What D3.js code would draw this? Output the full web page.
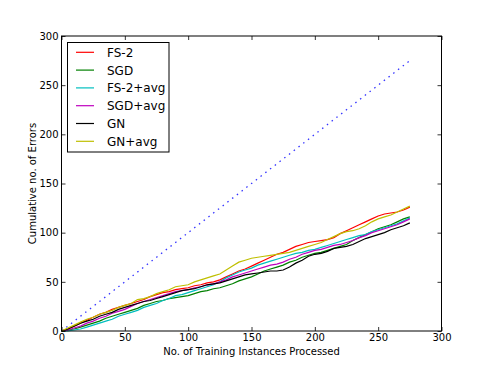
<!DOCTYPE html>
<html>
<head>
<meta charset="utf-8">
<script src="https://cdn.jsdelivr.net/npm/d3@7"></script>
<style>
body { margin: 0; background: #fff; }
svg { display: block; font-family: "DejaVu Sans", sans-serif; }
</style>
</head>
<body>
<div id="chart"></div>
<script>
const xs = [0,5,10,15,20,25,30,35,40,45,50,55,60,65,70,75,80,85,90,95,100,105,110,115,120,125,130,135,140,145,150,155,160,165,170,175,180,185,190,195,200,205,210,215,220,225,230,235,240,245,250,255,260,265,270,275];

const fs2    = [0,2,5,8,11,14,17,19,22,24,26,28,30,32,35,37,39,40,42,43,44,46,47,49,50,52,55,58,61,63,66,69,72,75,78,80,83,86,88,90,91,92,93,95,99,102,105,108,111,114,117,119,120,121,123,126];
const sgd    = [0,1,2,4,6,8,10,13,15,17,19,21,23,26,28,30,31,33,34,35,36,38,40,41,43,44,46,48,51,53,55,58,61,63,65,67,70,72,75,77,79,80,82,84,86,88,92,95,98,101,104,106,108,111,114,116];
const fs2avg = [0,0,1,2,4,6,8,10,12,15,17,19,21,24,26,28,31,33,36,37,39,41,43,45,47,50,54,57,60,62,64,67,69,71,73,75,77,79,80,82,83,85,87,89,91,93,95,97,98,101,103,105,107,109,112,115];
const sgdavg = [0,1,3,5,8,10,13,15,18,20,22,25,28,30,32,34,36,38,40,41,42,44,45,47,48,50,52,55,57,59,61,63,65,67,68,70,73,75,78,80,82,83,85,87,88,90,92,95,97,100,102,104,106,108,111,114];
const gn     = [0,2,5,8,10,12,15,17,19,22,24,26,28,30,31,33,35,37,39,41,42,43,45,47,48,49,51,53,55,57,58,59,60,61,61,62,65,69,72,76,78,79,81,84,85,86,88,91,94,96,98,100,103,105,107,110];
const gnavg  = [0,3,6,9,12,14,17,19,21,24,26,28,32,33,35,38,40,42,45,46,47,50,52,54,56,58,62,66,70,72,74,75,76,77,78,79,80,82,84,86,88,90,93,96,99,101,102,104,107,111,114,116,118,121,124,127];

const refX = [0, 275];
const refY = [0, 275];

const seriesNames = ["FS-2","SGD","FS-2+avg","SGD+avg","GN","GN+avg"];
const seriesValues = [fs2, sgd, fs2avg, sgdavg, gn, gnavg];
const seriesColors = ["#ff0000","#008000","#00bfbf","#bf00bf","#000000","#bfbf00"];

const xTicks = [0,50,100,150,200,250,300];
const yTicks = [0,50,100,150,200,250,300];

const W = 491, H = 368;
const L = 61.5, R = 441.5, T = 36, B = 331;

const svg = d3.select("#chart").append("svg").attr("width", W).attr("height", H);

const x = d3.scaleLinear().domain([0,300]).range([L,R]);
const y = d3.scaleLinear().domain([0,300]).range([B,T]);

// reference dotted line
const line = d3.line().x(d => x(d[0])).y(d => y(d[1]));
svg.append("path")
  .attr("d", line(refX.map((v,i) => [v, refY[i]])))
  .attr("fill","none").attr("stroke","#3333ff").attr("stroke-width",1.3)
  .attr("stroke-dasharray","1.5,4.5");

seriesValues.forEach((vals, k) => {
  svg.append("path")
    .attr("d", line(xs.map((v,i) => [v, vals[i]])))
    .attr("fill","none").attr("stroke", seriesColors[k]).attr("stroke-width",1.2);
});

// frame
svg.append("rect").attr("x",L).attr("y",T).attr("width",R-L).attr("height",B-T)
  .attr("fill","none").attr("stroke","#000").attr("stroke-width",1);

// axes with inward ticks
const fmt = d3.format("d");
const gx = svg.append("g").attr("transform",`translate(0,${B})`)
  .call(d3.axisBottom(x).tickValues(xTicks).tickFormat(fmt).tickSizeInner(-4).tickSizeOuter(0).tickPadding(3));
const gxt = svg.append("g").attr("transform",`translate(0,${T})`)
  .call(d3.axisTop(x).tickValues(xTicks).tickFormat("").tickSizeInner(-4).tickSizeOuter(0));
const gy = svg.append("g").attr("transform",`translate(${L},0)`)
  .call(d3.axisLeft(y).tickValues(yTicks).tickFormat(fmt).tickSizeInner(-4).tickSizeOuter(0).tickPadding(3));
const gyr = svg.append("g").attr("transform",`translate(${R},0)`)
  .call(d3.axisRight(y).tickValues(yTicks).tickFormat("").tickSizeInner(-4).tickSizeOuter(0));
[gx,gxt,gy,gyr].forEach(g => {
  g.select(".domain").remove();
  g.selectAll("text").attr("font-family","DejaVu Sans").attr("font-size",10).attr("fill","#000");
  g.selectAll("line").attr("stroke","#000").attr("stroke-width",0.8);
});

svg.append("text").attr("x",(L+R)/2).attr("y",354.5).attr("text-anchor","middle")
  .attr("font-size",10).text("No. of Training Instances Processed");
svg.append("text").attr("transform","translate(35.5,183.5) rotate(-90)").attr("text-anchor","middle")
  .attr("font-size",10).text("Cumulative no. of Errors");

// legend
const lg = svg.append("g");
lg.append("rect").attr("x",67.5).attr("y",42.5).attr("width",101.5).attr("height",109.5)
  .attr("fill","#fff").attr("stroke","#000").attr("stroke-width",1);
seriesNames.forEach((n,k) => {
  const yy = 52.3 + k*17.8;
  lg.append("line").attr("x1",76).attr("x2",94).attr("y1",yy).attr("y2",yy)
    .attr("stroke",seriesColors[k]).attr("stroke-width",1.2);
  lg.append("text").attr("x",107).attr("y",yy+4.4).attr("font-size",12).text(n);
});
</script>
</body>
</html>
